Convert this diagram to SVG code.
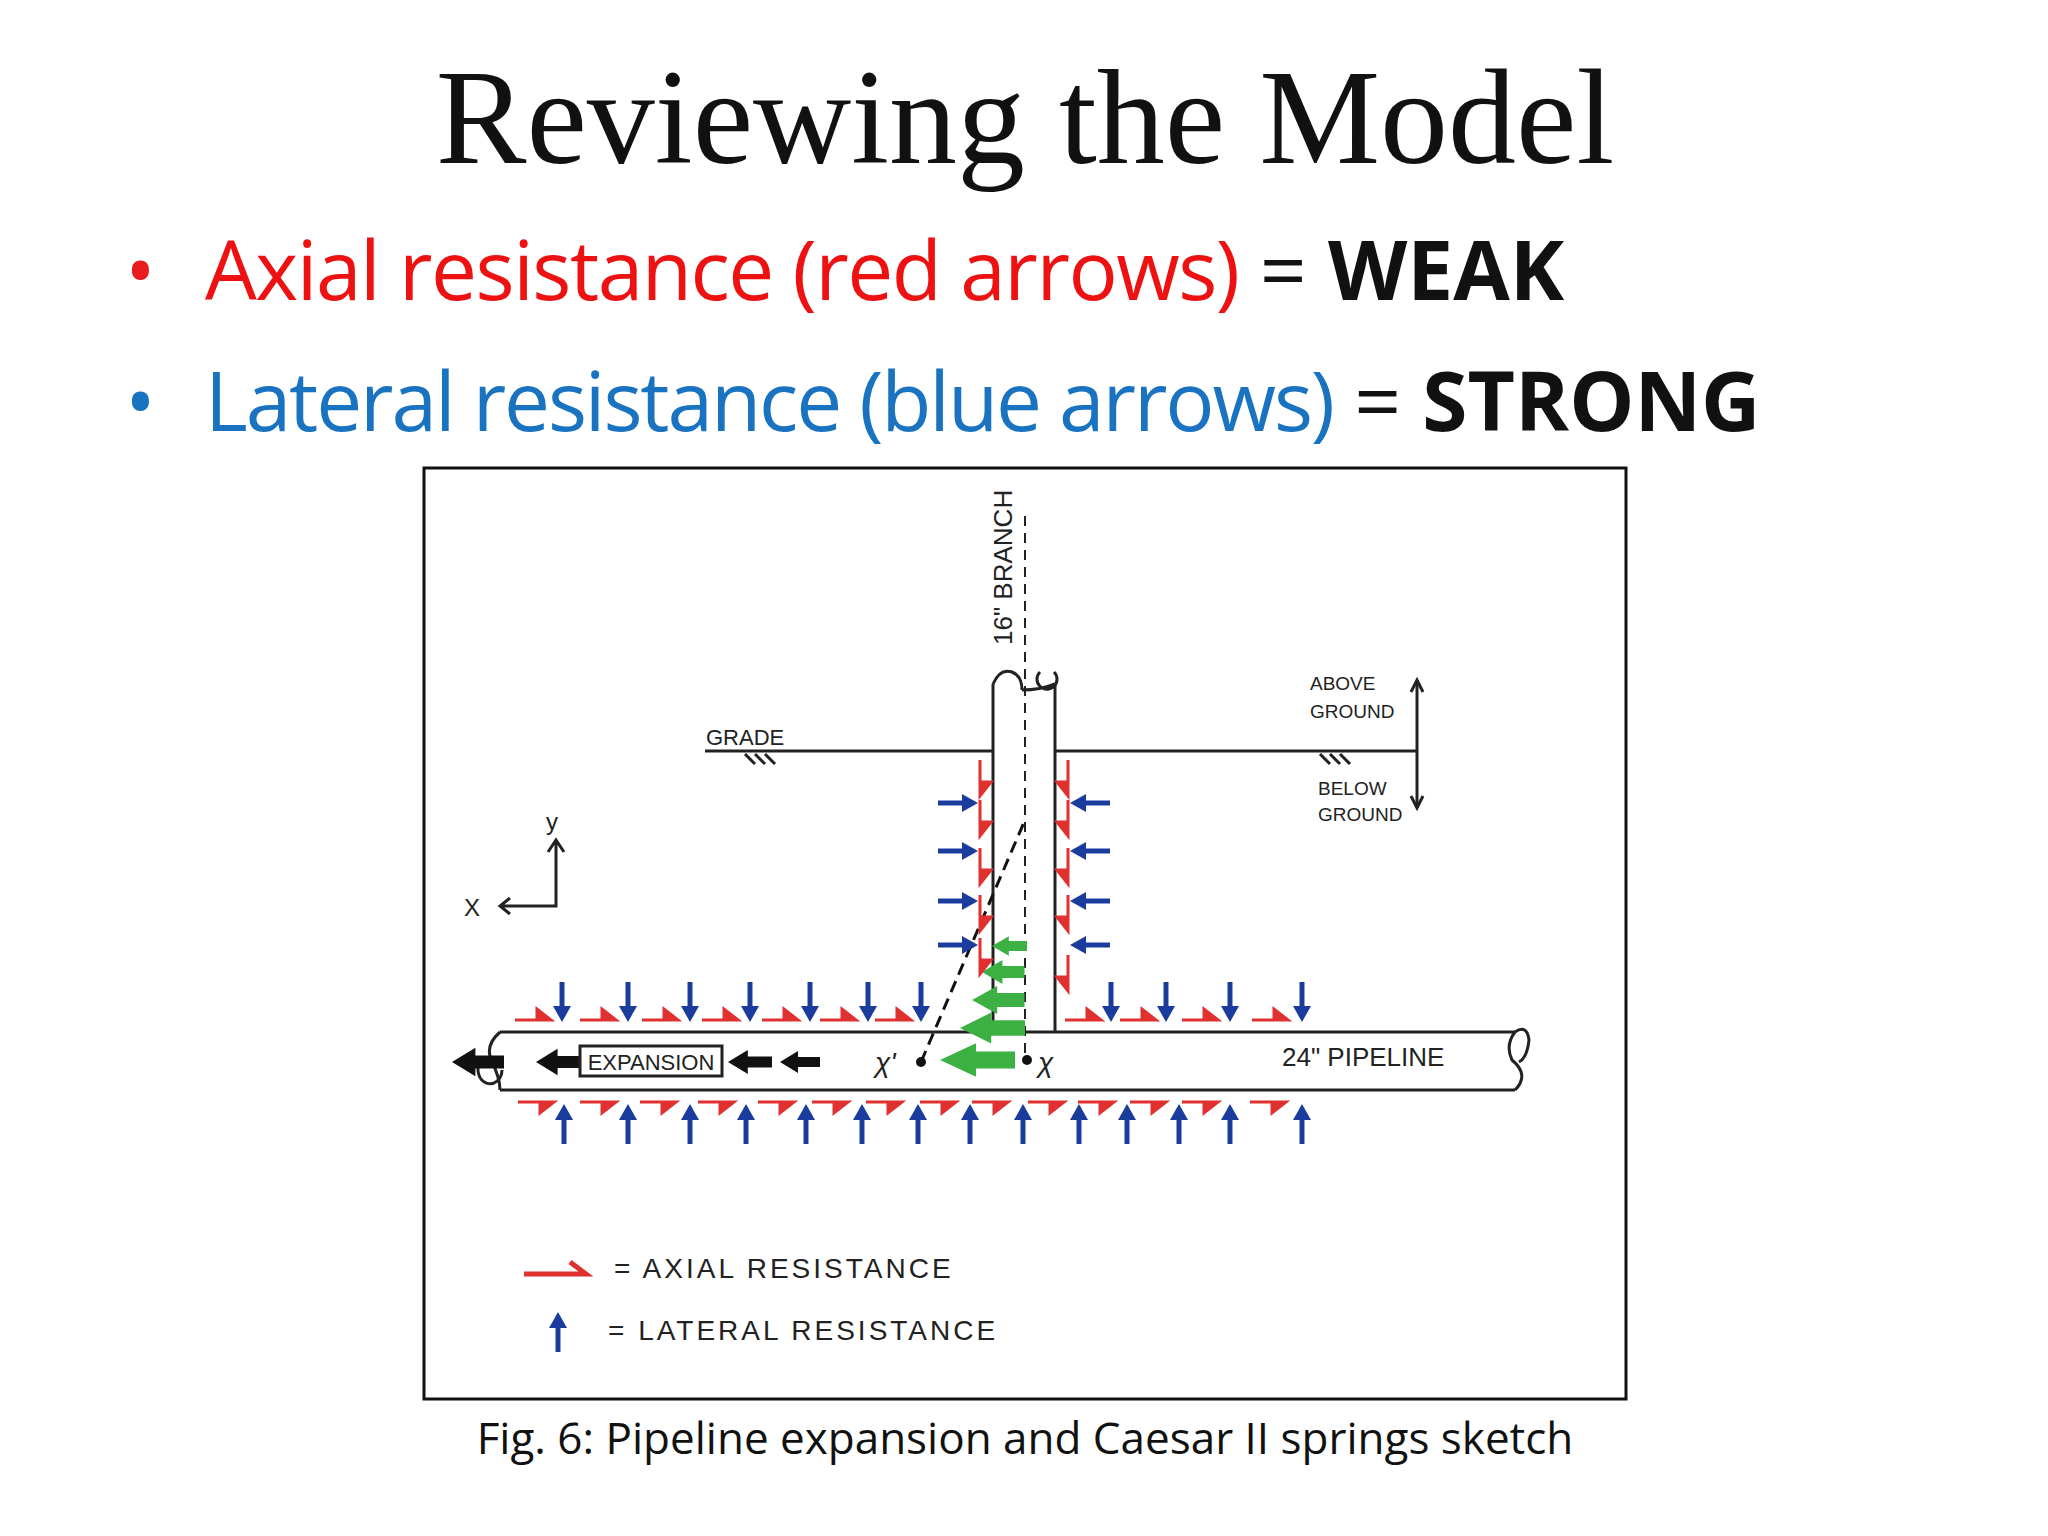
<svg xmlns="http://www.w3.org/2000/svg" width="2048" height="1536" viewBox="0 0 2048 1536">
<style>
.t{font-family:"Liberation Serif",serif}
.b{font-family:"Open Sans","Liberation Sans",sans-serif}
.h{font-family:"Liberation Sans",sans-serif;fill:#222}
.ln{stroke:#222;stroke-width:3;fill:none}
</style>
<defs>
<g id="bd"><line x1="0" y1="-22" x2="0" y2="6" stroke="#1a3c9c" stroke-width="5"/><polygon points="-9,2 9,2 0,18" fill="#1a3c9c"/></g>
<g id="bu"><use href="#bd" transform="rotate(180)"/></g>
<path id="rm" d="M-30,0 H6 L-8,-11 L-8,0 Z" fill="#e03030" stroke="#e03030" stroke-width="3"/>
<polygon id="ga" points="0,0 24,-14 24,-7 50,-7 50,7 24,7 24,14" fill="#3cb043"/>
<polygon id="ka" points="0,0 18,-11 18,-5 40,-5 40,5 18,5 18,11" fill="#111"/>
</defs>
<rect width="2048" height="1536" fill="#fff"/>
<text class="t" x="1025" y="163" font-size="136" text-anchor="middle" fill="#111">Reviewing the Model</text>
<g class="b" font-size="82">
<text x="125" y="300" fill="#e81c1c">•</text>
<text x="205" y="300"><tspan fill="#ee1111" textLength="1035">Axial resistance (red arrows)</tspan><tspan fill="#111"> = </tspan><tspan fill="#111" font-weight="bold">WEAK</tspan></text>
<text x="125" y="431" fill="#1a73c1">•</text>
<text x="205" y="431"><tspan fill="#1a73c1" textLength="1130">Lateral resistance (blue arrows)</tspan><tspan fill="#111"> = </tspan><tspan fill="#111" font-weight="bold">STRONG</tspan></text>
</g>
<rect x="424" y="468" width="1202" height="931" fill="#fff" stroke="#111" stroke-width="3"/>
<text class="b" x="1025" y="1454" font-size="44" text-anchor="middle" fill="#111">Fig. 6: Pipeline expansion and Caesar II springs sketch</text>

<g id="pipe">
<path class="ln" d="M500,1032 H1515 M500,1090 H1515 M993,1032 V684 M1055,1032 V684"/>
<path class="ln" d="M993,684 Q1000,668 1012,672 Q1022,676 1022,690 M1022,690 Q1040,690 1055,684 M1040,672 a10,10 0 1 0 14,0"/>
<path class="ln" d="M500,1032 Q484,1046 492,1062 Q500,1078 500,1090 M1515,1032 Q1505,1045 1512,1060 Q1530,1075 1515,1090 M1515,1032 q12,-8 14,8 q-2,18 -10,22"/>
<path class="ln" d="M480,1062 a12,14 0 1 0 22,8"/>
</g>
<g id="grade">
<path class="ln" d="M705,751 H993 M1055,751 H1417 M1417,680 V808"/>
<path class="ln" d="M745,754 l10,10 M755,754 l10,10 M765,754 l10,10 M1320,754 l10,10 M1330,754 l10,10 M1340,754 l10,10"/>
<path class="ln" d="M1411,692 l6,-12 l6,12 M1411,796 l6,12 l6,-12"/>
<text class="h" x="706" y="745" font-size="22">GRADE</text>
<text class="h" x="1310" y="690" font-size="19">ABOVE</text>
<text class="h" x="1310" y="718" font-size="19">GROUND</text>
<text class="h" x="1318" y="795" font-size="19">BELOW</text>
<text class="h" x="1318" y="821" font-size="19">GROUND</text>
<text class="h" x="1012" y="645" font-size="26" transform="rotate(-90 1012 645)">16" BRANCH</text>
<text class="h" x="1282" y="1066" font-size="26">24" PIPELINE</text>
</g>
<g id="axes">
<path class="ln" d="M556,840 V906 H500 M548,852 l8,-12 l8,12 M510,898 l-10,8 l10,8"/>
<text class="h" x="546" y="830" font-size="24">y</text>
<text class="h" x="464" y="916" font-size="24">X</text>
</g>
<g id="connectors">
<line x1="1025" y1="516" x2="1025" y2="1060" stroke="#222" stroke-width="2" stroke-dasharray="10,7"/>
<path d="M921,1062 L1025,820" stroke="#111" stroke-width="3" stroke-dasharray="12,7" fill="none"/>
<circle cx="921" cy="1062" r="5" fill="#111"/><circle cx="1027" cy="1060" r="5" fill="#111"/>
<text class="h" x="875" y="1072" font-size="28" font-style="italic">χ'</text>
<text class="h" x="1038" y="1072" font-size="28" font-style="italic">χ</text>
</g>
<g id="green">
<use href="#ga" transform="translate(940,1060) scale(1.5,1.2)"/>
<use href="#ga" transform="translate(960,1028) scale(1.3,1.1)"/>
<use href="#ga" transform="translate(972,1000) scale(1.05,1)"/>
<use href="#ga" transform="translate(982,972) scale(0.85)"/>
<use href="#ga" transform="translate(992,946) scale(0.7)"/>
</g>
<g id="black">
<use href="#ka" transform="translate(452,1062) scale(1.3)"/>
<use href="#ka" transform="translate(536,1062) scale(1.2)"/>
<use href="#ka" transform="translate(728,1062) scale(1.1)"/>
<use href="#ka" transform="translate(780,1062)"/>
<rect x="580" y="1046" width="142" height="30" fill="#fff" stroke="#222" stroke-width="3"/>
<text class="h" x="651" y="1070" font-size="22" text-anchor="middle">EXPANSION</text>
</g>
<g id="blue">
<use href="#bd" x="562" y="1004"/><use href="#bd" x="628" y="1004"/><use href="#bd" x="690" y="1004"/><use href="#bd" x="750" y="1004"/><use href="#bd" x="810" y="1004"/><use href="#bd" x="868" y="1004"/><use href="#bd" x="921" y="1004"/>
<use href="#bd" x="1111" y="1004"/><use href="#bd" x="1166" y="1004"/><use href="#bd" x="1230" y="1004"/><use href="#bd" x="1302" y="1004"/>
<g transform="translate(0,1122)">
<use href="#bu" x="564"/><use href="#bu" x="628"/><use href="#bu" x="690"/><use href="#bu" x="746"/><use href="#bu" x="806"/><use href="#bu" x="862"/><use href="#bu" x="918"/><use href="#bu" x="970"/><use href="#bu" x="1023"/><use href="#bu" x="1079"/><use href="#bu" x="1127"/><use href="#bu" x="1179"/><use href="#bu" x="1230"/><use href="#bu" x="1302"/>
</g>
<use href="#bd" transform="translate(960,803) rotate(-90)"/><use href="#bd" transform="translate(960,851) rotate(-90)"/><use href="#bd" transform="translate(960,901) rotate(-90)"/><use href="#bd" transform="translate(960,945) rotate(-90)"/>
<use href="#bd" transform="translate(1088,803) rotate(90)"/><use href="#bd" transform="translate(1088,851) rotate(90)"/><use href="#bd" transform="translate(1088,901) rotate(90)"/><use href="#bd" transform="translate(1088,945) rotate(90)"/>
</g>
<g id="red">
<g transform="translate(0,1020)">
<use href="#rm" x="545"/><use href="#rm" x="610"/><use href="#rm" x="672"/><use href="#rm" x="732"/><use href="#rm" x="792"/><use href="#rm" x="850"/><use href="#rm" x="905"/>
<use href="#rm" x="1095"/><use href="#rm" x="1150"/><use href="#rm" x="1212"/><use href="#rm" x="1282"/>
</g>
<g transform="translate(0,1102) scale(1,-1)">
<use href="#rm" x="548"/><use href="#rm" x="610"/><use href="#rm" x="670"/><use href="#rm" x="728"/><use href="#rm" x="788"/><use href="#rm" x="842"/><use href="#rm" x="896"/><use href="#rm" x="950"/><use href="#rm" x="1002"/><use href="#rm" x="1058"/><use href="#rm" x="1108"/><use href="#rm" x="1160"/><use href="#rm" x="1212"/><use href="#rm" x="1280"/>
</g>
<use href="#rm" transform="translate(980,790) rotate(90)"/><use href="#rm" transform="translate(980,830) rotate(90)"/><use href="#rm" transform="translate(980,878) rotate(90)"/><use href="#rm" transform="translate(980,925) rotate(90)"/><use href="#rm" transform="translate(980,968) rotate(90)"/>
<use href="#rm" transform="translate(1068,790) rotate(90) scale(1,-1)"/><use href="#rm" transform="translate(1068,830) rotate(90) scale(1,-1)"/><use href="#rm" transform="translate(1068,878) rotate(90) scale(1,-1)"/><use href="#rm" transform="translate(1068,925) rotate(90) scale(1,-1)"/><use href="#rm" transform="translate(1068,985) rotate(90) scale(1,-1)"/>
</g>
<g id="legend">
<path d="M524,1274 H586 L570,1262" stroke="#e03030" stroke-width="5" fill="none"/>
<use href="#bu" x="558" y="1330"/>
<text class="h" x="614" y="1278" font-size="28" letter-spacing="3">=  AXIAL  RESISTANCE</text>
<text class="h" x="608" y="1340" font-size="28" letter-spacing="3">=  LATERAL  RESISTANCE</text>
</g>
</svg>
